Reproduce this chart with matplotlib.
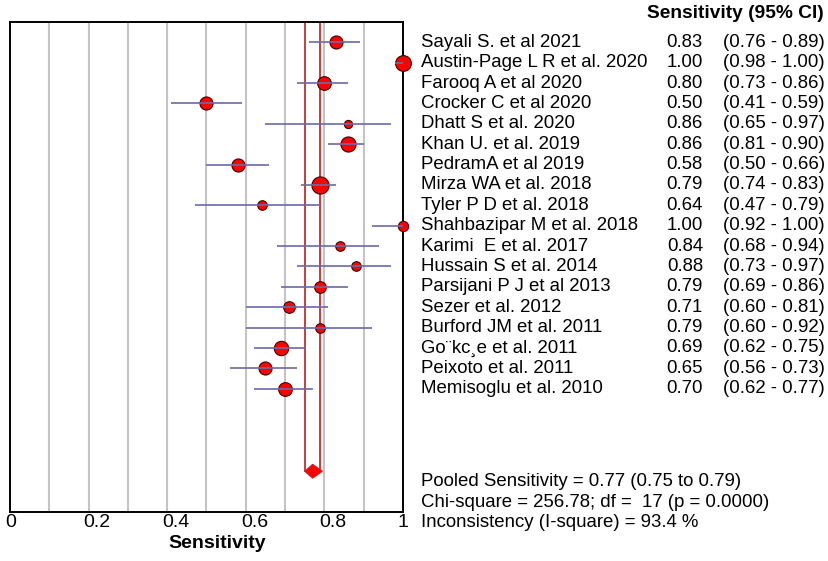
import matplotlib
matplotlib.use("Agg")
import matplotlib.pyplot as plt
import matplotlib.transforms as mtrans
from matplotlib.patches import Polygon

plt.rcParams['font.family'] = ['Liberation Sans', 'DejaVu Sans']

studies = ["Sayali S. et al 2021", "Austin-Page L R et al. 2020", "Farooq A et al 2020",
           "Crocker C et al 2020", "Dhatt S et al. 2020", "Khan U. et al. 2019",
           "PedramA et al 2019", "Mirza WA et al. 2018", "Tyler P D et al. 2018",
           "Shahbazipar M et al. 2018", "Karimi  E et al. 2017", "Hussain S et al. 2014",
           "Parsijani P J et al 2013", "Sezer et al. 2012", "Burford JM et al. 2011",
           "Go\u00a8kc\u00b8e et al. 2011", "Peixoto et al. 2011", "Memisoglu et al. 2010"]
sens = [0.83, 1.00, 0.80, 0.50, 0.86, 0.86, 0.58, 0.79, 0.64, 1.00, 0.84, 0.88,
        0.79, 0.71, 0.79, 0.69, 0.65, 0.70]
ci_lo = [0.76, 0.98, 0.73, 0.41, 0.65, 0.81, 0.50, 0.74, 0.47, 0.92, 0.68, 0.73,
         0.69, 0.60, 0.60, 0.62, 0.56, 0.62]
ci_hi = [0.89, 1.00, 0.86, 0.59, 0.97, 0.90, 0.66, 0.83, 0.79, 1.00, 0.94, 0.97,
         0.86, 0.81, 0.92, 0.75, 0.73, 0.77]
# relative study weights (marker diameters)
weights = [12.7, 15.3, 13.3, 12.7, 8.0, 14.7, 12.7, 16.7, 9.3, 10.0, 9.3, 9.3,
           11.3, 11.3, 9.3, 14.0, 12.7, 13.3]
pooled = 0.77
pooled_lo = 0.75
pooled_hi = 0.79
xticks = [0, 0.2, 0.4, 0.6, 0.8, 1]
xticklabels = ["0", "0.2", "0.4", "0.6", "0.8", "1"]
summary_lines = ["Pooled Sensitivity = 0.77 (0.75 to 0.79)",
                 "Chi-square = 256.78; df =  17 (p = 0.0000)",
                 "Inconsistency (I-square) = 93.4 %"]

W, H = 829, 561
fig = plt.figure(figsize=(W / 100, H / 100), dpi=100)
ax = fig.add_axes([10 / W, (H - 512) / H, 393 / W, 490 / H])

n = len(studies)
rows = list(range(1, n + 1))
diamond_row = 22.05

ax.set_xlim(0, 1)
ax.set_ylim(24.05, 0)

# grid
for g in [i / 10 for i in range(1, 10)]:
    ax.axvline(g, color='#c4c4c4', lw=1.5, zorder=0)

# pooled CI lines
ax.plot([pooled_lo, pooled_lo], [0, diamond_row], color='#c83c3c', lw=1.4, zorder=1)
ax.plot([pooled_hi, pooled_hi], [0, diamond_row], color='#c83c3c', lw=1.4, zorder=1)

# diamond
dh = 0.34
diamond = Polygon([[pooled_lo, diamond_row], [pooled, diamond_row - dh],
                   [pooled_hi + 0.005, diamond_row], [pooled, diamond_row + dh]],
                  closed=True, facecolor='#ff0000', edgecolor='#cc2222', lw=0.8, zorder=3)
ax.add_patch(diamond)

# markers
for r, s, w in zip(rows, sens, weights):
    ax.plot(s, r, 'o', ms=w * 0.74, mfc='#ff0000', mec='#400000', mew=0.8, zorder=3,
            clip_on=False)
# CI lines
for r, lo, hi in zip(rows, ci_lo, ci_hi):
    ax.plot([lo, hi], [r, r], color='#6a6aaa', lw=1.2, zorder=4, solid_capstyle='butt')

for sp in ax.spines.values():
    sp.set_color('black')
    sp.set_linewidth(1.4)
ax.set_yticks([])
ax.set_xticks(xticks)
ax.set_xticklabels(xticklabels, fontsize=14, ha='left')
ax.tick_params(axis='x', length=0, pad=1.5)
off = mtrans.ScaledTranslation(-5 / 100, 0, fig.dpi_scale_trans)
for lbl in ax.get_xticklabels():
    lbl.set_transform(lbl.get_transform() + off)

fig.text(216.7 / W, 1 - 543 / H, "Sensitivity", fontsize=14, fontweight='bold',
         ha='center', va='center')

# right-side table
tr = mtrans.blended_transform_factory(fig.transFigure, ax.transData)
fig.text(824 / W, 1 - 13 / H, "Sensitivity (95% CI)", fontsize=13.8, fontweight='bold',
         ha='right', va='center')
fs = 13.4
for r, name, s, lo, hi in zip(rows, studies, sens, ci_lo, ci_hi):
    ax.text(421.5 / W, r, name, transform=tr, fontsize=fs, ha='left', va='center',
            clip_on=False)
    ax.text(703 / W, r, f"{s:.2f}", transform=tr, fontsize=fs, ha='right', va='center',
            clip_on=False)
    ax.text(723 / W, r, f"({lo:.2f} - {hi:.2f})", transform=tr, fontsize=fs, ha='left',
            va='center', clip_on=False)

for yy, line in zip([481.7, 502.7, 522.5], summary_lines):
    fig.text(421.5 / W, 1 - yy / H, line, fontsize=fs, ha='left', va='center')

fig.savefig("out.png", dpi=100)
